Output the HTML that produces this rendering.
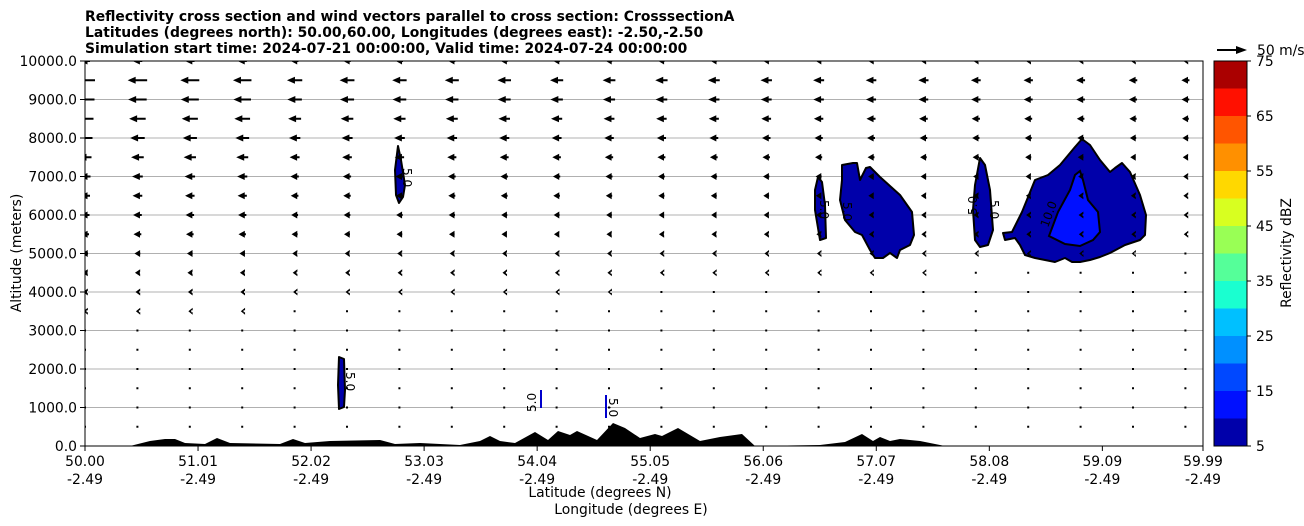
<!DOCTYPE html>
<html><head><meta charset="utf-8"><style>
body{margin:0;background:#fff;}
svg{display:block;font-family:"DejaVu Sans","Liberation Sans",sans-serif;}
</style></head><body>
<svg id="s" width="1304" height="526" xmlns="http://www.w3.org/2000/svg">
<defs><clipPath id="pc"><rect x="85" y="61" width="1118" height="385"/></clipPath></defs>
<text x="85" y="21" font-size="13.9" font-weight="bold">Reflectivity cross section and wind vectors parallel to cross section: CrosssectionA</text>
<text x="85" y="37" font-size="13.9" font-weight="bold">Latitudes (degrees north): 50.00,60.00, Longitudes (degrees east): -2.50,-2.50</text>
<text x="85" y="53" font-size="13.9" font-weight="bold">Simulation start time: 2024-07-21 00:00:00, Valid time: 2024-07-24 00:00:00</text>
<g id="grid" stroke="#b0b0b0" stroke-width="1"></g>
<g fill="#0000aa" stroke="#000" stroke-width="2" stroke-linejoin="round">
<path d="M398,146 L401,160 L405,185 L403,197 L399,203 L396,195 L395,170 Z"/>
<path d="M339,357 L344,359 L345,390 L344,407 L339,409 L338,385 Z"/>
<path d="M818,177 L822,182 L825,205 L826,238 L820,240 L815,210 L815,190 Z"/>
<path d="M842,165 L853,163 L857,163 L860,180 L866,168 L870,167 L880,177 L900,195 L912,212 L914,235 L910,245 L900,250 L897,258 L890,253 L883,258 L875,258 L870,250 L862,235 L855,232 L845,220 L840,200 L842,180 Z"/>
<path d="M980,158 L985,165 L990,190 L993,230 L988,245 L980,247 L975,240 L973,210 L975,185 Z"/>
<path d="M1003,233 L1012,232 L1022,212 L1035,180 L1048,175 L1060,165 L1075,147 L1082,139 L1090,145 L1100,160 L1110,172 L1115,168 L1122,163 L1130,172 L1140,195 L1146,215 L1145,235 L1140,240 L1125,245 L1110,253 L1100,257 L1090,260 L1080,262 L1072,262 L1065,258 L1055,262 L1045,260 L1035,258 L1025,255 L1020,245 L1015,238 L1005,240 Z"/>
</g>
<path d="M1049,236 L1058,212 L1070,190 L1075,175 L1080,171 L1083,180 L1088,200 L1098,212 L1100,232 L1093,240 L1080,246 L1065,244 Z" fill="#0010ff" stroke="#000" stroke-width="2"/>
<g stroke="#0000cc" stroke-width="2"><line x1="541" y1="390" x2="541" y2="408"/><line x1="606" y1="395" x2="606" y2="418"/></g>
<g font-size="12" fill="#000">
<text transform="translate(403,168) rotate(90)">5.0</text>
<text transform="translate(346,372) rotate(90)">5.0</text>
<text transform="translate(536,412) rotate(-90)">5.0</text>
<text transform="translate(609,398) rotate(90)">5.0</text>
<text transform="translate(820,200) rotate(90)">5.0</text>
<text transform="translate(843,202) rotate(90)">5.0</text>
<text transform="translate(977,215) rotate(-90)">5.0</text>
<text transform="translate(990,200) rotate(90)">5.0</text>
<text transform="translate(1048,228) rotate(-70)">10.0</text>
</g>
<g id="arrows" fill="#000" clip-path="url(#pc)"></g>
<path fill="#000" d="M130,446 L150,441 L165,439 L175,439 L185,443 L205,444 L217,438 L230,443 L280,444 L293,439 L305,443 L330,441 L380,440 L395,444 L420,443 L460,445 L480,441 L490,436 L500,441 L515,443 L535,432 L548,440 L558,431 L570,435 L577,431 L597,440 L613,423 L625,428 L640,438 L655,434 L662,436 L678,428 L700,441 L720,437 L742,434 L755,446 L820,445 L845,442 L862,434 L873,441 L880,437 L890,441 L900,439 L920,441 L945,446 Z"/>
<rect x="85" y="61" width="1118" height="385" fill="none" stroke="#000" stroke-width="1"/>
<g id="ticks" font-size="13.9"></g>
<text x="600" y="497" font-size="13.9" text-anchor="middle">Latitude (degrees N)</text>
<text x="631" y="514" font-size="13.9" text-anchor="middle">Longitude (degrees E)</text>
<text transform="translate(21,253) rotate(-90)" font-size="13.9" text-anchor="middle">Altitude (meters)</text>
<g id="cb"></g>
<rect x="1214" y="61" width="33" height="385" fill="none" stroke="#000"/>
<text transform="translate(1291,253) rotate(-90)" font-size="13.9" text-anchor="middle">Reflectivity dBZ</text>
<line x1="1217" y1="50" x2="1238" y2="50" stroke="#000" stroke-width="2"/>
<path d="M1236,46 L1247,50 L1236,54 Z"/>
<text x="1257" y="55" font-size="13.9">50 m/s</text>
</svg>
<script>
const NS="http://www.w3.org/2000/svg";
function el(p,t,a,txt){const e=document.createElementNS(NS,t);for(const k in a)e.setAttribute(k,a[k]);if(txt!=null)e.textContent=txt;document.getElementById(p).appendChild(e);return e;}
for(let i=1;i<10;i++){const y=446-38.5*i;el("grid","line",{x1:85,x2:1203,y1:y,y2:y});}
for(let i=0;i<=10;i++){const y=446-38.5*i;el("ticks","line",{x1:80,x2:85,y1:y,y2:y,stroke:"#000"});el("ticks","text",{x:77,y:y+5,"text-anchor":"end"},(i*1000).toFixed(1));}
const lat=["50.00","51.01","52.02","53.03","54.04","55.05","56.06","57.07","58.08","59.09","59.99"];
for(let i=0;i<11;i++){const x=i<10?85+113.04*i:1203;el("ticks","line",{x1:x,x2:x,y1:446,y2:451,stroke:"#000"});el("ticks","text",{x:x,y:466,"text-anchor":"middle"},lat[i]);el("ticks","text",{x:x,y:484,"text-anchor":"middle"},"-2.49");}
const cols=["#aa0000","#ff1000","#ff5500","#ff9000","#ffd800","#d8ff20","#99ff55","#55ff99","#1affd0","#00c0ff","#0090ff","#0048ff","#0010ff","#0000aa"];
cols.forEach((c,i)=>el("cb","rect",{x:1214,y:61+27.5*i,width:33,height:27.6,fill:c}));
for(let v=75;v>=5;v-=10){const y=61+(75-v)*5.5;el("cb","line",{x1:1247,x2:1251,y1:y,y2:y,stroke:"#000"});el("cb","text",{x:1256,y:y+5,"font-size":13.9},v);}
const base={10000:10,9500:20,9000:19,8500:17,8000:15,7500:13,7000:11,6500:10,6000:9,5500:8,5000:6,4500:5,4000:4,3500:3,3000:2,2500:1.5,2000:1.2,1500:1,1000:1,500:1};
for(let c=0;c<22;c++){const xc=85+52.4*c;for(let a=500;a<=10000;a+=500){const y=446-a*0.0385;let L=base[a]*(1-c*0.025);if(c>=4)L=Math.max(L*0.85,1);if(L<2.5){el("arrows","rect",{x:xc-1,y:y-1,width:2,height:2});continue;}
const x=xc+L/2;const h=Math.min(8,L*0.45+3);el("arrows","path",{d:`M${x-L},${y} L${x-L+h},${y-3.5} L${x-L+h},${y-1} L${x},${y-1} L${x},${y+1} L${x-L+h},${y+1} L${x-L+h},${y+3.5} Z`});}}
</script>
</body></html>
